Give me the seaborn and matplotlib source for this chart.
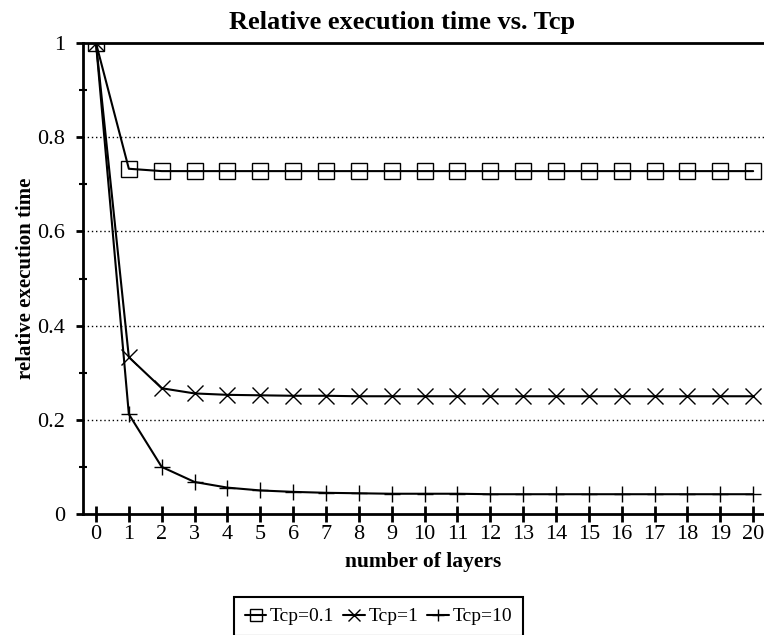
import numpy as np
import pandas as pd
import seaborn as sns
import matplotlib
matplotlib.use("Agg")
import matplotlib.pyplot as plt

layers = list(range(21))
tcp_01 = [1.0, 0.733] + [0.728] * 19
tcp_1 = [1.0, 0.333, 0.267, 0.256, 0.253, 0.252, 0.251, 0.251] + [0.250] * 13
tcp_10 = [1.0, 0.212, 0.100, 0.068, 0.056, 0.050, 0.047, 0.045, 0.044,
          0.043, 0.043, 0.043] + [0.042] * 9
series_labels = ["Tcp=0.1", "Tcp=1", "Tcp=10"]
y_ticks = [0, 0.2, 0.4, 0.6, 0.8, 1]
y_ticklabels = ["0", "0.2", "0.4", "0.6", "0.8", "1"]

sns.set_theme(style="white")
plt.rcParams['font.family'] = ['Liberation Serif', 'DejaVu Serif']
for k in ["text.color", "axes.labelcolor", "xtick.color", "ytick.color"]:
    plt.rcParams[k] = "black"

fig = plt.figure(figsize=(7.64, 6.35), dpi=100)
ax = fig.add_axes([83/764, 1 - 514/635, 1 - 83/764, (514 - 43)/635])

df = pd.DataFrame({"layers": layers, "t01": tcp_01, "t1": tcp_1, "t10": tcp_10})

common = dict(color="black", linewidth=1.5, ax=ax)
sns.lineplot(data=df, x="layers", y="t01", marker="s", markerfacecolor="none",
             markeredgecolor="black", markeredgewidth=1.0, markersize=11.5,
             label=series_labels[0], **common)
sns.lineplot(data=df, x="layers", y="t1", marker="x", markeredgecolor="black",
             markeredgewidth=1.0, markersize=12, label=series_labels[1], **common)
sns.lineplot(data=df, x="layers", y="t10", marker="+", markeredgecolor="black",
             markeredgewidth=1.0, markersize=11, label=series_labels[2], **common)

ax.set_xlim(-0.395, 20.33)
ax.set_ylim(0, 1)
ax.set_xticks(layers)
ax.set_xticklabels([str(v) for v in layers], fontsize=16)
ax.set_yticks(y_ticks)
ax.set_yticklabels(y_ticklabels, fontsize=16)
ax.set_yticks([0.1, 0.3, 0.5, 0.7, 0.9], minor=True)
ax.tick_params(axis="x", which="major", direction="inout", length=12, width=2,
               pad=2, bottom=True)
ax.tick_params(axis="y", which="major", direction="out", length=5, width=2,
               pad=8, left=True)
ax.tick_params(axis="y", which="minor", direction="inout", length=6, width=1.5,
               left=True)

for yv in [0.2, 0.4, 0.6, 0.8]:
    ax.axhline(yv, color="black", linestyle=(0, (1, 2)), linewidth=1.0, zorder=0)

for side in ["left", "bottom", "top"]:
    ax.spines[side].set_visible(True)
    ax.spines[side].set_color("black")
    ax.spines[side].set_linewidth(2)
ax.spines["right"].set_visible(False)

ax.set_title("Relative execution time vs. Tcp", fontsize=19, fontweight="bold",
             pad=10, x=(402.5 - 83) / 681)
ax.set_xlabel("number of layers", fontsize=15.5, fontweight="bold", labelpad=6)
ax.set_ylabel("relative execution time", fontsize=15, fontweight="bold", labelpad=1)

handles, labels = ax.get_legend_handles_labels()
ax.get_legend().remove()
leg = fig.legend(handles, labels, loc="upper center",
                 bbox_to_anchor=(378.5/764, 1 - 597/635), ncol=3, fontsize=14,
                 frameon=True, fancybox=False, edgecolor="black", framealpha=1,
                 handlelength=1.1, handletextpad=0.2, columnspacing=0.45,
                 borderpad=0.55, borderaxespad=0, markerscale=0.75)
leg.get_frame().set_linewidth(1.5)

fig.savefig("out.png", dpi=100)
